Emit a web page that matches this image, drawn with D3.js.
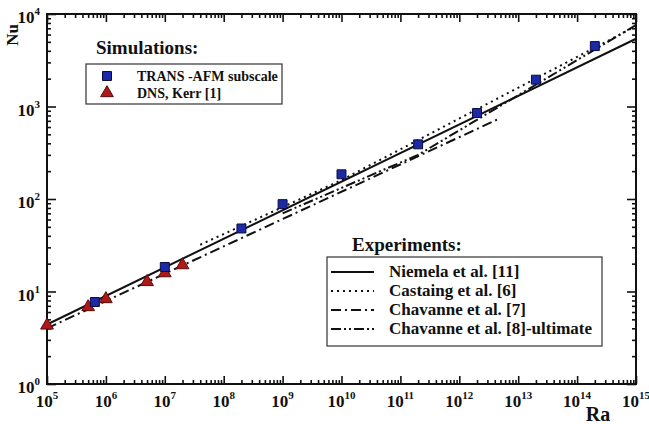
<!DOCTYPE html>
<html>
<head>
<meta charset="utf-8">
<script src="https://cdn.jsdelivr.net/npm/d3@7"></script>
<style>
  body { margin: 0; background: #fff; }
  svg text { font-family: "Liberation Serif", "Times New Roman", Times, serif; font-weight: bold; fill: #111; }
</style>
</head>
<body>
<div id="chart"></div>
<script>
// Simulation points
var transRa = [6.5e5, 1e7, 2e8, 1e9, 1e10, 2e11, 2e12, 2e13, 2e14];
var transNu = [7.7, 18.4, 48, 88, 185, 390, 850, 1950, 4500];
var dnsRa = [1e5, 5e5, 1e6, 5e6, 1e7, 2e7];
var dnsNu = [4.3, 6.8, 8.3, 12.7, 15.8, 19.3];

// Experimental fits
var niemelaRa = [1e5, 1e15];
var niemelaNu = [4.4, 5400];
var castaingRa = [4e7, 1e10, 1e15];
var castaingNu = [32, 160, 7400];
var chavanne7Ra = [1e5, 5e12];
var chavanne7Nu = [4.0, 750];
var chavanne8Ra = [1e9, 2e11, 1e15];
var chavanne8Nu = [70, 300, 7600];

// Axis decades
var xDecades = [5, 6, 7, 8, 9, 10, 11, 12, 13, 14, 15];
var yDecades = [0, 1, 2, 3, 4];

// Legend labels
var simTitle = "Simulations:";
var simLabels = ["TRANS -AFM subscale", "DNS, Kerr [1]"];
var expTitle = "Experiments:";
var expLabels = ["Niemela et al. [11]", "Castaing et al. [6]", "Chavanne et al. [7]", "Chavanne et al. [8]-ultimate"];

var svgWidth = 649;
var svgHeight = 424;
var plot = { left: 47, right: 636, top: 14, bottom: 384 };

var svg = d3.select("#chart")
  .append("svg")
  .attr("width", svgWidth)
  .attr("height", svgHeight)
  .attr("font-family", "Liberation Serif, serif");

var x = d3.scaleLog().domain([1e5, 1e15]).range([plot.left, plot.right]);
var y = d3.scaleLog().domain([1, 1e4]).range([plot.bottom, plot.top]);

// Major and minor tick values
var xMajor = xDecades.map(d => Math.pow(10, d));
var xMinor = [];
xDecades.slice(0, -1).forEach(d => { for (var k = 2; k < 10; k++) xMinor.push(k * Math.pow(10, d)); });
var yMajor = yDecades.map(d => Math.pow(10, d));
var yMinor = [];
yDecades.slice(0, -1).forEach(d => { for (var k = 2; k < 10; k++) yMinor.push(k * Math.pow(10, d)); });

function styleAxis(g) {
  g.select(".domain").remove();
  g.selectAll(".tick line").attr("stroke", "#111").attr("stroke-width", 1.6);
  g.selectAll(".tick text").remove();
}

// Ticks pointing inward on all four sides
[[xMajor, 8], [xMinor, 4]].forEach(t => {
  svg.append("g").attr("transform", `translate(0,${plot.bottom})`)
    .call(d3.axisBottom(x).tickValues(t[0]).tickSize(-t[1])).call(styleAxis);
  svg.append("g").attr("transform", `translate(0,${plot.top})`)
    .call(d3.axisTop(x).tickValues(t[0]).tickSize(-t[1])).call(styleAxis);
});
[[yMajor, 9], [yMinor, 4]].forEach(t => {
  svg.append("g").attr("transform", `translate(${plot.left},0)`)
    .call(d3.axisLeft(y).tickValues(t[0]).tickSize(-t[1])).call(styleAxis);
  svg.append("g").attr("transform", `translate(${plot.right},0)`)
    .call(d3.axisRight(y).tickValues(t[0]).tickSize(-t[1])).call(styleAxis);
});

// Frame
svg.append("rect")
  .attr("x", plot.left).attr("y", plot.top)
  .attr("width", plot.right - plot.left).attr("height", plot.bottom - plot.top)
  .attr("fill", "none").attr("stroke", "#111").attr("stroke-width", 2);

// Tick labels as 10 with superscript
function powerLabel(g, e) {
  g.append("tspan").text("10");
  g.append("tspan").attr("dy", -8).attr("font-size", 11).text(e);
}
xDecades.forEach(d => {
  var t = svg.append("text")
    .attr("x", x(Math.pow(10, d)))
    .attr("y", 407)
    .attr("text-anchor", "middle")
    .attr("font-size", 17);
  powerLabel(t, d);
});
yDecades.forEach(d => {
  var t = svg.append("text")
    .attr("x", 40)
    .attr("y", y(Math.pow(10, d)) + 9)
    .attr("text-anchor", "end")
    .attr("font-size", 17);
  powerLabel(t, d);
});

// Axis titles
svg.append("text")
  .attr("transform", "translate(18,35) rotate(-90)")
  .attr("text-anchor", "middle")
  .attr("font-size", 17)
  .text("Nu");
svg.append("text")
  .attr("x", 598).attr("y", 421)
  .attr("text-anchor", "middle")
  .attr("font-size", 20)
  .text("Ra");

// Fit lines
var line = d3.line().x(d => x(d[0])).y(d => y(d[1]));
var fits = [
  { ra: niemelaRa, nu: niemelaNu, dash: null },
  { ra: castaingRa, nu: castaingNu, dash: "2,4" },
  { ra: chavanne7Ra, nu: chavanne7Nu, dash: "10,4,2,4" },
  { ra: chavanne8Ra, nu: chavanne8Nu, dash: "10,3,2,3,2,3" }
];
fits.forEach(f => {
  svg.append("path")
    .datum(d3.zip(f.ra, f.nu))
    .attr("d", line)
    .attr("fill", "none")
    .attr("stroke", "#111")
    .attr("stroke-width", 2)
    .attr("stroke-dasharray", f.dash);
});

// Markers
var square = d3.symbol().type(d3.symbolSquare).size(80);
var triangle = d3.symbol().type(d3.symbolTriangle).size(70);
svg.append("g").selectAll("path")
  .data(d3.zip(dnsRa, dnsNu))
  .join("path")
  .attr("d", triangle)
  .attr("transform", d => `translate(${x(d[0])},${y(d[1])})`)
  .attr("fill", "#b01818").attr("stroke", "#5a0a0a").attr("stroke-width", 1);
svg.append("g").selectAll("path")
  .data(d3.zip(transRa, transNu))
  .join("path")
  .attr("d", square)
  .attr("transform", d => `translate(${x(d[0])},${y(d[1])})`)
  .attr("fill", "#1c2aa8").attr("stroke", "#0a0a40").attr("stroke-width", 1);

// Simulations legend
svg.append("text").attr("x", 96).attr("y", 54).attr("font-size", 19).text(simTitle);
svg.append("rect")
  .attr("x", 86).attr("y", 64).attr("width", 196).attr("height", 40)
  .attr("fill", "#fff").attr("stroke", "#333").attr("stroke-width", 1.2);
var simSymbols = [[square, "#1c2aa8", "#0a0a40"], [triangle, "#b01818", "#5a0a0a"]];
simLabels.forEach((s, i) => {
  var cy = 76 + i * 17;
  svg.append("path").attr("d", simSymbols[i][0])
    .attr("transform", `translate(107,${cy})`)
    .attr("fill", simSymbols[i][1]).attr("stroke", simSymbols[i][2]);
  svg.append("text").attr("x", 137).attr("y", cy + 5).attr("font-size", 14).text(s);
});

// Experiments legend
svg.append("text").attr("x", 352).attr("y", 251).attr("font-size", 19).text(expTitle);
svg.append("rect")
  .attr("x", 327).attr("y", 257).attr("width", 275).attr("height", 89)
  .attr("fill", "#fff").attr("stroke", "#333").attr("stroke-width", 1.2);
expLabels.forEach((s, i) => {
  var cy = 272 + i * 19;
  svg.append("line")
    .attr("x1", 331).attr("x2", 374).attr("y1", cy).attr("y2", cy)
    .attr("stroke", "#111").attr("stroke-width", 2)
    .attr("stroke-dasharray", fits[i].dash);
  svg.append("text").attr("x", 389).attr("y", cy + 5).attr("font-size", 17).text(s);
});
</script>
</body>
</html>
